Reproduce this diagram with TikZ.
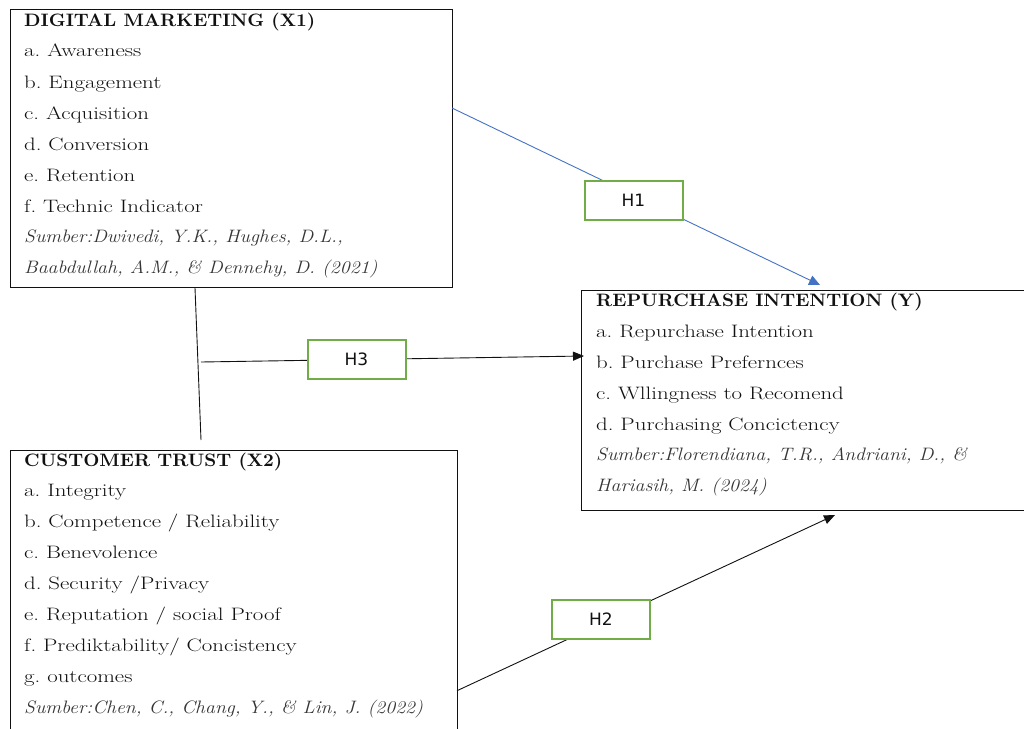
\documentclass[tikz,border=0pt]{standalone}
\usepackage{fontspec}
\setmainfont{Latin Modern Roman}[FakeStretch=1.27]
\newfontfamily\headfont{lmroman10-bold.otf}[FakeStretch=1.04]
\newfontfamily\srcfont{Latin Modern Roman}[FakeStretch=1.1]
\newfontfamily\hfont{DejaVu Sans}
\usetikzlibrary{arrows.meta}
\definecolor{hgreen}{HTML}{70AD47}
\definecolor{hblue}{HTML}{4472C4}
\definecolor{ink}{HTML}{111111}
\tikzset{
  bigbox/.style={draw=ink, line width=1.1pt, fill=none, anchor=north west, inner sep=0pt},
  hbox/.style={draw=hgreen, line width=2pt, fill=white, minimum width=98pt, minimum height=39pt, inner sep=0pt, font=\hfont\fontsize{17}{20}\selectfont, text=ink},
  headtxt/.style={anchor=base west, inner sep=0pt, font=\headfont\fontsize{18}{21}\selectfont, text=ink},
  itemtxt/.style={anchor=base west, inner sep=0pt, font=\fontsize{18}{21}\selectfont, text=ink},
  srctxt/.style={anchor=base west, inner sep=0pt, font=\srcfont\fontsize{18}{21}\selectfont\itshape, text=ink!85},
  conn/.style={draw=ink, line width=0.9pt},
  tipblk/.style={-{Triangle[length=11pt,width=9pt]}},
}
\frenchspacing
\begin{document}
\frenchspacing
\begin{tikzpicture}[x=1pt,y=-1pt]
\useasboundingbox (0,0) rectangle (1024,728);
% main boxes
\node[bigbox, minimum width=442pt, minimum height=278pt] (x1) at (10,9) {};
\node[bigbox, minimum width=460pt, minimum height=220pt] (y) at (581,290) {};
\node[bigbox, minimum width=447pt, minimum height=300pt] (x2) at (10,450) {};
% X1 text
\node[headtxt] (x1h) at (24,26.7) {DIGITAL MARKETING (X1)};
\node[itemtxt] (x1a) at (24,56.7) {a. Awareness};
\node[itemtxt] (x1b) at (24,88) {b. Engagement};
\node[itemtxt] (x1c) at (24,119.3) {c. Acquisition};
\node[itemtxt] (x1d) at (24,150) {d. Conversion};
\node[itemtxt] (x1e) at (24,181) {e. Retention};
\node[itemtxt] (x1f) at (24,212) {f. Technic Indicator};
\node[srctxt] (x1s1) at (24,242.7) {Sumber:Dwivedi, Y.K., Hughes, D.L.,};
\node[srctxt] (x1s2) at (24,273) {Baabdullah, A.M., \& Dennehy, D. (2021)};
% Y text
\node[headtxt] (yh) at (596,306) {REPURCHASE INTENTION (Y)};
\node[itemtxt] (ya) at (596,337) {a. Repurchase Intention};
\node[itemtxt] (yb) at (596,368) {b. Purchase Prefernces};
\node[itemtxt] (yc) at (596,399) {c. Wllingness to Recomend};
\node[itemtxt] (yd) at (596,430) {d. Purchasing Concictency};
\node[srctxt] (ys1) at (596,460) {Sumber:Florendiana, T.R., Andriani, D., \&};
\node[srctxt] (ys2) at (596,491) {Hariasih, M. (2024)};
% X2 text
\node[headtxt] (x2h) at (24,466.7) {CUSTOMER TRUST (X2)};
\node[itemtxt] (x2a) at (24,496.7) {a. Integrity};
\node[itemtxt] (x2b) at (24,527.3) {b. Competence / Reliability};
\node[itemtxt] (x2c) at (24,558.3) {c. Benevolence};
\node[itemtxt] (x2d) at (24,589) {d. Security /Privacy};
\node[itemtxt] (x2e) at (24,620) {e. Reputation / social Proof};
\node[itemtxt] (x2f) at (24,651.7) {f. Prediktability/ Concistency};
\node[itemtxt] (x2g) at (24,682.3) {g. outcomes};
\node[srctxt] (x2s) at (24,713.3) {Sumber:Chen, C., Chang, Y., \& Lin, J. (2022)};
% connector end points
\coordinate (h1s) at (452,108);
\coordinate (h1e) at (820,285);
\coordinate (vtop) at (195,288);
\coordinate (vbot) at (201,440);
\coordinate (h3s) at (201,362);
\coordinate (h3e) at (584,356);
\coordinate (h2s) at (457,690.7);
\coordinate (h2e) at (835,515);
% connectors
\draw[draw=hblue, line width=0.9pt, -{Triangle[length=11pt,width=10pt]}] (h1s) -- (h1e);
\draw[conn] (vtop) -- (vbot);
\draw[conn, tipblk] (h3s) -- (h3e);
\draw[conn, tipblk] (h2s) -- (h2e);
% hypothesis boxes
\node[hbox] (h1) at (633.5,200) {H1};
\node[hbox] (h3) at (356.5,359) {H3};
\node[hbox] (h2) at (601,619) {H2};
\end{tikzpicture}
\end{document}
